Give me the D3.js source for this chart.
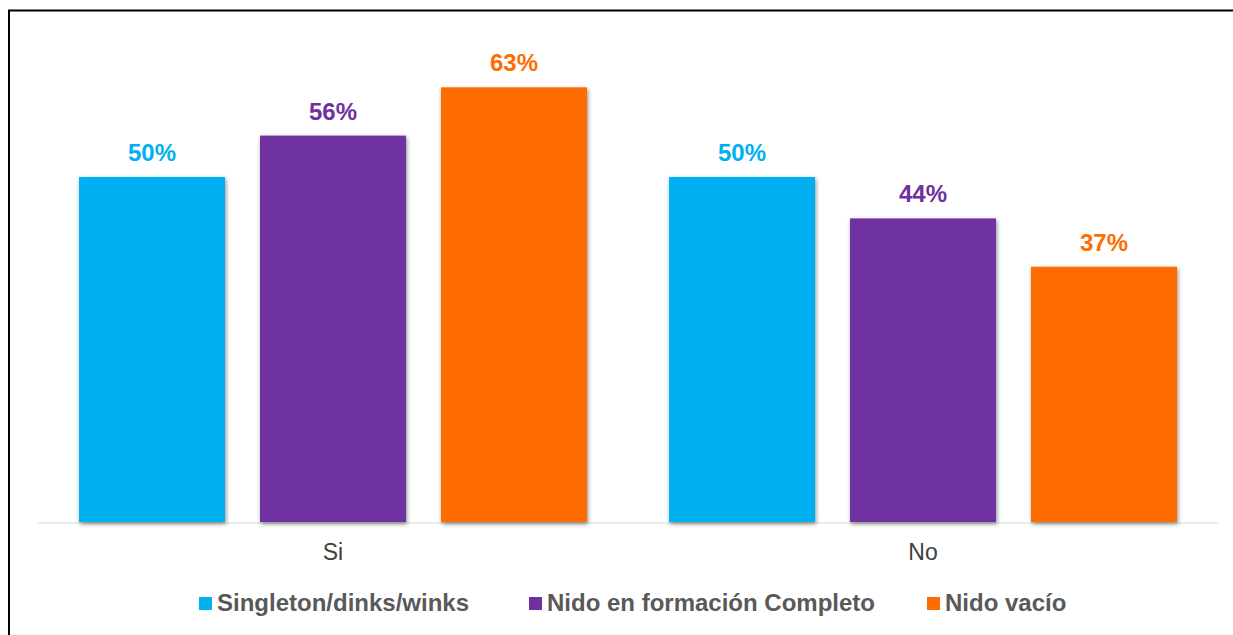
<!DOCTYPE html>
<html>
<head>
<meta charset="utf-8">
<script src="https://cdn.jsdelivr.net/npm/d3@7"></script>
<style>
  html, body { margin: 0; padding: 0; background: #fff; }
  svg { display: block; font-family: "Liberation Sans", Arial, sans-serif; }
</style>
</head>
<body>
<svg id="chart" width="1233" height="635"></svg>
<script>
// Respuesta por segmento de hogar
const categories = ["Si", "No"];
const seriesNames = ["Singleton/dinks/winks", "Nido en formación Completo", "Nido vacío"];
const singletonValues = [50, 50];
const nidoFormacionValues = [56, 44];
const nidoVacioValues = [63, 37];
const seriesColors = ["#00B0F0", "#7030A0", "#FF6D00"];

const seriesValues = [singletonValues, nidoFormacionValues, nidoVacioValues];
const data = categories.map((c, i) => ({
  category: c,
  values: seriesNames.map((s, j) => ({ series: s, idx: j, value: seriesValues[j][i] }))
}));

const svg = d3.select("#chart");

// outer frame
svg.append("rect")
  .attr("x", 9).attr("y", 10.5)
  .attr("width", 1400).attr("height", 800)
  .attr("fill", "none").attr("stroke", "#000").attr("stroke-width", 2);

const defs = svg.append("defs");
const shadow = defs.append("filter").attr("id", "barShadow")
  .attr("x", "-10%").attr("y", "-10%").attr("width", "120%").attr("height", "120%");
shadow.append("feDropShadow")
  .attr("dx", 1).attr("dy", 2).attr("stdDeviation", 2.2)
  .attr("flood-color", "#000").attr("flood-opacity", 0.45);

const plot = { left: 38, right: 1218, top: 39, bottom: 522 };

const x0 = d3.scaleBand().domain(categories).range([plot.left, plot.right]).padding(0);
const x1 = d3.scaleBand().domain(seriesNames).range([0, x0.bandwidth()])
  .paddingInner(0.1934).paddingOuter(0.2265);
const y = d3.scaleLinear().domain([0, 70]).range([plot.bottom, plot.top]);

// baseline
svg.append("line")
  .attr("x1", plot.left).attr("x2", plot.right)
  .attr("y1", plot.bottom + 1).attr("y2", plot.bottom + 1)
  .attr("stroke", "#ebebeb").attr("stroke-width", 2);

const groups = svg.append("g").selectAll("g")
  .data(data).join("g")
  .attr("transform", d => `translate(${x0(d.category)},0)`);

groups.selectAll("rect")
  .data(d => d.values).join("rect")
  .attr("x", d => x1(d.series))
  .attr("y", d => y(d.value))
  .attr("width", x1.bandwidth())
  .attr("height", d => y(0) - y(d.value))
  .attr("fill", d => seriesColors[d.idx])
  .attr("filter", "url(#barShadow)");

groups.selectAll("text.val")
  .data(d => d.values).join("text")
  .attr("class", "val")
  .attr("x", d => x1(d.series) + x1.bandwidth() / 2)
  .attr("y", d => y(d.value) - 16)
  .attr("text-anchor", "middle")
  .attr("font-size", 24).attr("font-weight", "bold")
  .attr("fill", d => seriesColors[d.idx])
  .text(d => d.value + "%");

// category axis labels
const xAxis = d3.axisBottom(x0).tickSize(0).tickPadding(0);
const axisG = svg.append("g").attr("transform", `translate(0,${plot.bottom})`).call(xAxis);
axisG.select(".domain").remove();
axisG.selectAll("text")
  .attr("dy", null).attr("y", 38)
  .attr("font-size", 23).attr("font-family", "Liberation Sans, Arial, sans-serif")
  .attr("fill", "#404040");

// legend
const legendX = [199, 529, 927];
const legend = svg.append("g").selectAll("g")
  .data(seriesNames).join("g")
  .attr("transform", (d, i) => `translate(${legendX[i]},597)`);
legend.append("rect")
  .attr("width", 13).attr("height", 13)
  .attr("fill", (d, i) => seriesColors[i]);
legend.append("text")
  .attr("x", 18).attr("y", 14)
  .attr("font-size", 24).attr("font-weight", "bold")
  .attr("fill", "#595959")
  .text(d => d);
</script>
</body>
</html>
